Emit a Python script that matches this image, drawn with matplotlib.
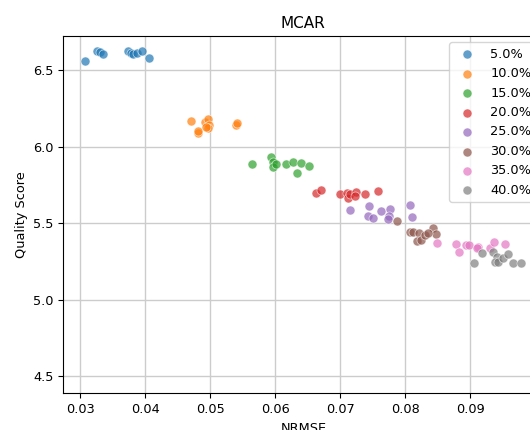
import matplotlib
matplotlib.use('Agg')
import matplotlib.pyplot as plt
import numpy as np

# missing rates (legend) and points per rate
rates = ['5.0%', '10.0%', '15.0%', '20.0%', '25.0%', '30.0%', '35.0%', '40.0%']

nrmse = [
    [0.0308, 0.0326, 0.0330, 0.0335, 0.0374, 0.0378, 0.0382, 0.0388, 0.0395, 0.0406],
    [0.0470, 0.0481, 0.0482, 0.0492, 0.0497, 0.0498, 0.0497, 0.0494, 0.0540, 0.0542],
    [0.0565, 0.0594, 0.0597, 0.0596, 0.0601, 0.0616, 0.0628, 0.0640, 0.0634, 0.0652],
    [0.0663, 0.0670, 0.0699, 0.0711, 0.0712, 0.0715, 0.0725, 0.0738, 0.0758, 0.0722],
    [0.0715, 0.0745, 0.0743, 0.0750, 0.0762, 0.0777, 0.0775, 0.0773, 0.0808, 0.0811],
    [0.0788, 0.0808, 0.0812, 0.0821, 0.0818, 0.0824, 0.0830, 0.0843, 0.0847, 0.0835],
    [0.0849, 0.0878, 0.0882, 0.0893, 0.0898, 0.0912, 0.0930, 0.0937, 0.0953, 0.0910],
    [0.0906, 0.0918, 0.0935, 0.0941, 0.0938, 0.0943, 0.0951, 0.0958, 0.0966, 0.0978],
]
quality = [
    [6.557, 6.622, 6.615, 6.605, 6.622, 6.610, 6.605, 6.613, 6.624, 6.576],
    [6.169, 6.090, 6.103, 6.162, 6.178, 6.140, 6.119, 6.130, 6.140, 6.156],
    [5.886, 5.933, 5.900, 5.868, 5.886, 5.886, 5.900, 5.894, 5.825, 5.875],
    [5.694, 5.716, 5.688, 5.694, 5.665, 5.688, 5.705, 5.688, 5.709, 5.680],
    [5.585, 5.613, 5.548, 5.535, 5.578, 5.592, 5.548, 5.530, 5.618, 5.541],
    [5.515, 5.443, 5.443, 5.437, 5.384, 5.393, 5.420, 5.465, 5.432, 5.437],
    [5.371, 5.363, 5.313, 5.356, 5.356, 5.345, 5.335, 5.378, 5.363, 5.340],
    [5.241, 5.306, 5.313, 5.280, 5.247, 5.247, 5.269, 5.297, 5.241, 5.237],
]

colors = ['#1f77b4', '#ff7f0e', '#2ca02c', '#d62728',
          '#9467bd', '#8c564b', '#e377c2', '#7f7f7f']

plt.rcParams['font.size'] = 9.3

fig = plt.figure(figsize=(5.3, 4.3), dpi=100)
# axes run past the right edge of the figure, as in the reference crop
ax = fig.add_axes([0.1198, 0.0855, 0.905, 0.8307])

for i, rate in enumerate(rates):
    ax.scatter(nrmse[i], quality[i], s=42, color=colors[i], alpha=0.7,
               edgecolor='white', linewidth=0.5, label=rate, zorder=3)

ax.set_xlim(0.02745, 0.1012)
ax.set_ylim(4.389, 6.722)
ax.set_xticks([0.03, 0.04, 0.05, 0.06, 0.07, 0.08, 0.09])
ax.set_yticks([4.5, 5.0, 5.5, 6.0, 6.5])
ax.grid(True, color='#cccccc', linewidth=1.0, zorder=0)
ax.set_axisbelow(True)

ax.set_title('MCAR', fontsize=11)
ax.set_xlabel('NRMSE')
ax.set_ylabel('Quality Score')
ax.legend(loc='upper right')

plt.savefig('out.png', dpi=100)
plt.close()
